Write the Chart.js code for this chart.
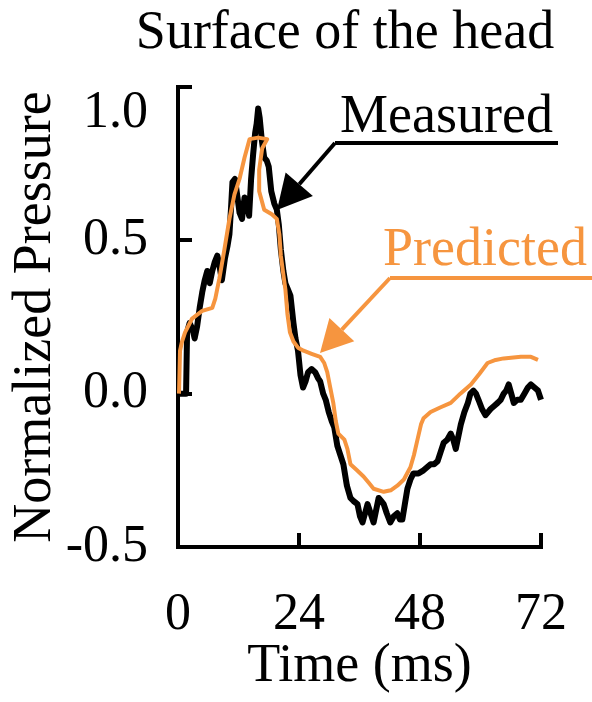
<!DOCTYPE html>
<html>
<head>
<meta charset="utf-8">
<script src="https://cdn.jsdelivr.net/npm/chart.js@4.4.0/dist/chart.umd.min.js"></script>
<style>
  html, body { margin: 0; padding: 0; background: #fff; overflow: hidden; }
  .wrap { position: relative; width: 592px; height: 702px; }
  canvas { display: block; }
  .title {
    position: absolute; left: 345px; top: 3px; transform: translateX(-50%);
    white-space: nowrap; font: 54px/54px "Liberation Serif"; color: #000;
  }
</style>
</head>
<body>
<div class="wrap">
  <canvas id="chart" width="592" height="702"></canvas>
  <div class="title">Surface of the head</div>
</div>
<script>
// values (time in ms, normalized pressure)
const measuredTime = [0.0, 1.6, 1.8, 2.3, 2.9, 3.3, 3.8, 4.3, 4.8, 5.3, 5.8, 6.3, 6.8, 7.3, 7.8, 8.3, 8.7, 9.3, 9.8, 10.2,
  10.5, 10.8, 11.3, 11.8, 12.2, 12.7, 13.2, 13.7, 14.1, 14.5, 14.9, 15.3, 15.6, 15.9, 16.2, 16.6, 17.1, 17.6, 18.0, 18.5,
  19.1, 19.6, 20.0, 20.4, 20.9, 21.3, 21.8, 22.3, 22.9, 23.3, 23.8, 24.3, 24.8, 25.3, 25.8, 26.5, 27.2, 27.8, 28.2, 28.8,
  29.3, 29.9, 30.5, 31.0, 31.6, 32.2, 32.8, 33.5, 34.2, 34.8, 35.6, 36.1, 36.6, 37.1, 37.6, 38.2, 38.8, 39.3, 39.8, 40.3,
  40.8, 41.4, 42.1, 42.8, 43.5, 44.0, 44.5, 45.0, 45.5, 46.1, 46.7, 47.7, 48.7, 49.4, 50.1, 50.8, 51.5, 52.1, 52.7, 53.4,
  54.1, 54.6, 55.1, 55.6, 56.1, 56.8, 57.5, 58.0, 58.6, 59.1, 59.6, 60.3, 61.0, 61.5, 62.0, 62.7, 63.4, 64.0, 64.6, 65.1,
  65.6, 66.1, 66.6, 67.3, 68.0, 68.7, 69.4, 70.0, 70.7, 71.4, 72.0, 72.6];
const measuredPressure = [0.00, 0.00, 0.20, 0.23, 0.21, 0.18, 0.22, 0.28, 0.33, 0.37, 0.40, 0.36, 0.40, 0.43, 0.45, 0.41, 0.37, 0.44, 0.48, 0.52,
  0.60, 0.69, 0.70, 0.64, 0.59, 0.57, 0.64, 0.62, 0.58, 0.70, 0.78, 0.85, 0.88, 0.93, 0.90, 0.83, 0.77, 0.76, 0.74, 0.66,
  0.62, 0.60, 0.55, 0.47, 0.40, 0.36, 0.34, 0.32, 0.23, 0.18, 0.14, 0.06, 0.02, 0.04, 0.07, 0.08, 0.07, 0.05, 0.04, 0.00,
  -0.02, -0.06, -0.09, -0.11, -0.17, -0.20, -0.23, -0.30, -0.34, -0.35, -0.36, -0.40, -0.42, -0.39, -0.36, -0.39, -0.42, -0.38, -0.34, -0.35,
  -0.36, -0.39, -0.42, -0.40, -0.39, -0.41, -0.41, -0.36, -0.31, -0.28, -0.26, -0.26, -0.25, -0.24, -0.23, -0.23, -0.22, -0.19, -0.16, -0.15,
  -0.13, -0.15, -0.18, -0.14, -0.10, -0.06, -0.03, 0.00, 0.01, 0.00, -0.02, -0.05, -0.07, -0.06, -0.05, -0.04, -0.03, -0.02, 0.00, 0.01,
  0.03, 0.00, -0.03, -0.02, -0.02, 0.00, 0.02, 0.03, 0.02, 0.01, -0.02, -0.05];

const predictedTime = [0.2, 0.4, 0.8, 1.4, 2.8, 4.8, 6.8, 7.4, 8.2, 9.2, 10.2, 11.2, 12.2, 13.2, 14.2, 15.9, 17.7, 16.7, 16.1, 16.1,
  17.1, 18.6, 19.6, 20.1, 20.4, 20.8, 21.3, 21.7, 22.2, 22.9, 23.8, 24.9, 26.5, 28.2, 29.0, 29.6, 30.2, 30.8, 31.3, 31.8,
  33.0, 33.6, 34.2, 35.5, 36.8, 37.8, 38.8, 40.8, 42.2, 43.5, 44.8, 46.1, 46.8, 47.5, 48.2, 48.7, 50.1, 52.0, 54.1, 56.0,
  58.1, 59.8, 61.4, 63.0, 64.6, 68.0, 70.0, 71.4];
const predictedPressure = [0.00, 0.14, 0.17, 0.20, 0.245, 0.27, 0.28, 0.31, 0.375, 0.47, 0.57, 0.65, 0.70, 0.77, 0.83, 0.835, 0.83, 0.80, 0.73, 0.66,
  0.60, 0.585, 0.57, 0.52, 0.45, 0.40, 0.34, 0.26, 0.20, 0.17, 0.15, 0.14, 0.13, 0.12, 0.10, 0.07, 0.02, -0.03, -0.09, -0.13,
  -0.15, -0.18, -0.23, -0.25, -0.27, -0.29, -0.31, -0.32, -0.315, -0.30, -0.28, -0.24, -0.20, -0.15, -0.10, -0.08, -0.06, -0.045, -0.03, 0.00,
  0.03, 0.065, 0.10, 0.11, 0.115, 0.12, 0.12, 0.11];

const xTicks = [0, 24, 48, 72];
const yTicks = [-0.5, 0.0, 0.5, 1.0];

const orange = '#F6953F';
const serif = '"Liberation Serif"';

function toPoints(times, values) {
  return times.map((t, i) => ({ x: t, y: values[i] }));
}

function drawArrow(ctx, x0, y0, x1, y1, headLen, headW) {
  const len = Math.hypot(x1 - x0, y1 - y0);
  const ux = (x1 - x0) / len, uy = (y1 - y0) / len;
  const bx = x1 - ux * headLen, by = y1 - uy * headLen;
  ctx.beginPath();
  ctx.moveTo(x0, y0);
  ctx.lineTo(bx, by);
  ctx.stroke();
  ctx.beginPath();
  ctx.moveTo(x1, y1);
  ctx.lineTo(bx - uy * headW / 2, by + ux * headW / 2);
  ctx.lineTo(bx + uy * headW / 2, by - ux * headW / 2);
  ctx.closePath();
  ctx.fill();
}

// the two labelled arrows
const notes = {
  id: 'notes',
  afterDatasetsDraw(chart) {
    const ctx = chart.ctx;
    ctx.save();
    ctx.font = '54px ' + serif;
    ctx.textBaseline = 'alphabetic';
    ctx.textAlign = 'left';
    ctx.lineWidth = 4;

    ctx.fillStyle = '#000';
    ctx.strokeStyle = '#000';
    ctx.fillText('Measured', 340, 132);
    ctx.beginPath();
    ctx.moveTo(558, 143);
    ctx.lineTo(335, 143);
    ctx.stroke();
    drawArrow(ctx, 335, 143, 277, 210, 34, 36);

    ctx.fillStyle = orange;
    ctx.strokeStyle = orange;
    ctx.fillText('Predicted', 383, 265);
    ctx.beginPath();
    ctx.moveTo(592, 278);
    ctx.lineTo(390, 278);
    ctx.stroke();
    drawArrow(ctx, 390, 278, 320, 353, 32, 34);
    ctx.restore();
  }
};

const axisStyle = {
  border: { display: true, color: '#000', width: 4 },
  grid: { drawOnChartArea: false, drawTicks: true, tickLength: -14, color: '#000', lineWidth: 4 }
};

const chart = new Chart(document.getElementById('chart'), {
  type: 'line',
  data: {
    datasets: [
      {
        label: 'Predicted',
        data: toPoints(predictedTime, predictedPressure),
        borderColor: orange,
        borderWidth: 4,
        pointRadius: 0,
        tension: 0,
        borderJoinStyle: 'round',
        clip: false,
        order: 0
      },
      {
        label: 'Measured',
        data: toPoints(measuredTime, measuredPressure),
        borderColor: '#000',
        borderWidth: 6,
        pointRadius: 0,
        tension: 0,
        borderJoinStyle: 'round',
        clip: false,
        order: 1
      }
    ]
  },
  options: {
    responsive: false,
    animation: false,
    events: [],
    layout: { padding: { top: 87, left: 0, right: 51, bottom: 0 } },
    plugins: { legend: { display: false }, tooltip: { enabled: false }, title: { display: false } },
    scales: {
      x: {
        type: 'linear',
        min: 0,
        max: 72,
        ...axisStyle,
        afterBuildTicks: (scale) => { scale.ticks = xTicks.map(v => ({ value: v })); },
        afterFit: (scale) => {
          scale.height = 155;
          scale.paddingLeft = 0;
          scale.paddingRight = 0;
        },
        ticks: {
          color: '#000',
          padding: 56,
          maxRotation: 0,
          font: { family: serif, size: 52, lineHeight: 1 },
          callback: (v) => String(v)
        },
        title: {
          display: true,
          text: 'Time (ms)',
          color: '#000',
          padding: { top: 0, bottom: 8 },
          font: { family: serif, size: 54, lineHeight: 1 }
        }
      },
      y: {
        min: -0.5,
        max: 1.0,
        ...axisStyle,
        afterBuildTicks: (scale) => { scale.ticks = yTicks.map(v => ({ value: v })); },
        afterFit: (scale) => {
          scale.width = 178;
          scale.paddingTop = 0;
          scale.paddingBottom = 0;
        },
        ticks: {
          color: '#000',
          padding: 44,
          font: { family: serif, size: 52, lineHeight: 1 },
          // the top label sits just below its tick in the original
          callback: (v) => v === 1 ? ['', v.toFixed(1)] : v.toFixed(1)
        },
        title: {
          display: true,
          text: 'Normalized Pressure',
          color: '#000',
          padding: { top: 9, bottom: 0 },
          font: { family: serif, size: 54, lineHeight: 1 }
        }
      }
    }
  },
  plugins: [notes]
});

// redraw once the serif face is surely available
document.fonts.ready.then(() => chart.draw());
setTimeout(() => chart.draw(), 300);
</script>
</body>
</html>
